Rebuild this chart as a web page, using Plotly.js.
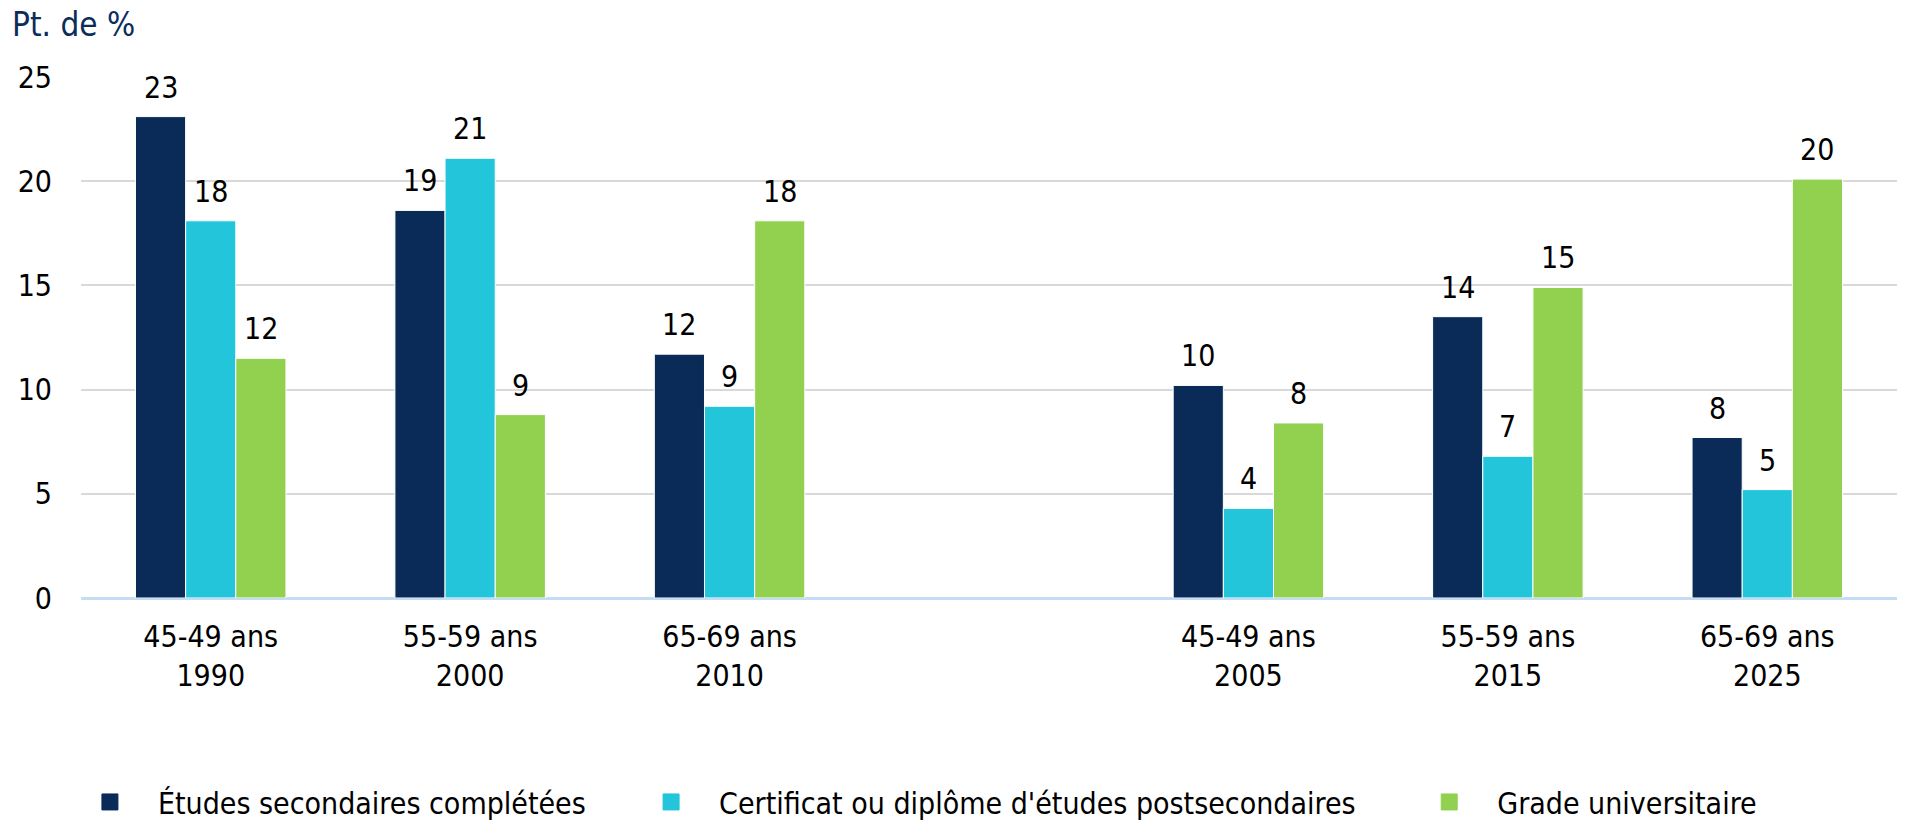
<!DOCTYPE html>
<html>
<head>
<meta charset="utf-8">
<script src="https://cdn.plot.ly/plotly-3.0.1.min.js"></script>
<style>
  html, body { margin: 0; padding: 0; background: #fff; }
  #myDiv { width: 1906px; height: 820px; }
</style>
</head>
<body>
<div id="myDiv"></div>
<script>
// categories (the blank one is the gap between the two cohorts)
var categories = ['45-49 ans<br>1990', '55-59 ans<br>2000', '65-69 ans<br>2010', ' ',
                  '45-49 ans<br>2005', '55-59 ans<br>2015', '65-69 ans<br>2025'];

var seriesNames = ['Études secondaires complétées',
                   "Certificat ou diplôme d'études postsecondaires",
                   'Grade universitaire'];

var secondaire = [23.1, 18.6, 11.7, null, 10.2, 13.5, 7.7];
var certificat = [18.1, 21.1, 9.2, null, 4.3, 6.8, 5.2];
var grade      = [11.5, 8.8, 18.1, null, 8.4, 14.9, 20.1];

// labels shown above the bars
var secondaireLbl = ['23', '19', '12', '', '10', '14', '8'];
var certificatLbl = ['18', '21', '9', '', '4', '7', '5'];
var gradeLbl      = ['12', '9', '18', '', '8', '15', '20'];

var yTicks = [0, 5, 10, 15, 20, 25];

var colors = ['#0A2B57', '#22C5DA', '#92D050'];
var fontFam = 'DejaVu Sans Condensed, Liberation Sans, sans-serif';

var W = 1906, H = 820;
var margin = { l: 81, r: 9, t: 77, b: 222, pad: 0 };
var bargap = 0.42;

var values = [secondaire, certificat, grade];
var labels = [secondaireLbl, certificatLbl, gradeLbl];
var legendIds = ['legend', 'legend2', 'legend3'];
var legendX = [-0.0105, 0.2985, 0.727];

var data = values.map(function(v, i) {
  return {
    type: 'bar',
    x: categories,
    y: v,
    name: seriesNames[i],
    showlegend: false,
    marker: { color: colors[i], line: { color: '#ffffff', width: 1 } },
    hoverinfo: 'y+name'
  };
});

// legend-only entries, so the swatches come out as bigger squares
values.forEach(function(v, i) {
  data.push({
    type: 'scatter',
    mode: 'markers',
    x: [null],
    y: [null],
    name: seriesNames[i],
    legend: legendIds[i],
    showlegend: true,
    hoverinfo: 'skip',
    marker: { symbol: 'square', size: 16, color: colors[i],
              line: { color: colors[i], width: 1 } }
  });
});

// value labels above each bar, shifted to the bar's slot in the group
var plotW = W - margin.l - margin.r;
var barW = plotW / categories.length * (1 - bargap) / 3;
var annotations = [];
values.forEach(function(v, i) {
  v.forEach(function(val, j) {
    if (val === null) return;
    annotations.push({
      x: categories[j], y: val, xref: 'x', yref: 'y',
      text: labels[i][j], showarrow: false,
      xanchor: 'center', yanchor: 'bottom',
      xshift: (i - 1) * barW, yshift: 10,
      font: { family: fontFam, size: 30, color: '#000000' }
    });
  });
});

// axis title sits top-left like a caption
annotations.push({
  text: 'Pt. de %', xref: 'paper', yref: 'paper',
  x: -0.039, y: 1.101, xanchor: 'left', yanchor: 'middle',
  showarrow: false,
  font: { family: fontFam, size: 33, color: '#0D2C5A' }
});

function legendAt(x) {
  return {
    orientation: 'h', x: x, xref: 'paper',
    y: 0.022, yref: 'container', xanchor: 'left', yanchor: 'middle',
    itemwidth: 86,
    font: { family: fontFam, size: 30, color: '#000000' },
    bgcolor: 'rgba(0,0,0,0)'
  };
}

var layout = {
  width: W,
  height: H,
  margin: margin,
  paper_bgcolor: '#ffffff',
  plot_bgcolor: '#ffffff',
  barmode: 'group',
  bargap: bargap,
  bargroupgap: 0,
  font: { family: fontFam, size: 30, color: '#000000' },
  xaxis: {
    type: 'category',
    categoryorder: 'array',
    categoryarray: categories,
    automargin: false,
    showgrid: false,
    showline: false,
    ticks: '',
    ticklabelstandoff: 18,
    tickfont: { family: fontFam, size: 30, color: '#000000' }
  },
  yaxis: {
    range: [0, 25],
    tickvals: yTicks,
    ticktext: yTicks.map(String),
    automargin: false,
    showgrid: true,
    gridcolor: '#D9D9D9',
    gridwidth: 2,
    zeroline: true,
    zerolinecolor: '#C5DCF4',
    zerolinewidth: 3,
    showline: false,
    ticks: '',
    ticklabelstandoff: 28,
    tickfont: { family: fontFam, size: 30, color: '#000000' }
  },
  showlegend: true,
  legend: legendAt(legendX[0]),
  legend2: legendAt(legendX[1]),
  legend3: legendAt(legendX[2]),
  annotations: annotations
};

Plotly.newPlot('myDiv', data, layout, { displayModeBar: false, staticPlot: true });
</script>
</body>
</html>
